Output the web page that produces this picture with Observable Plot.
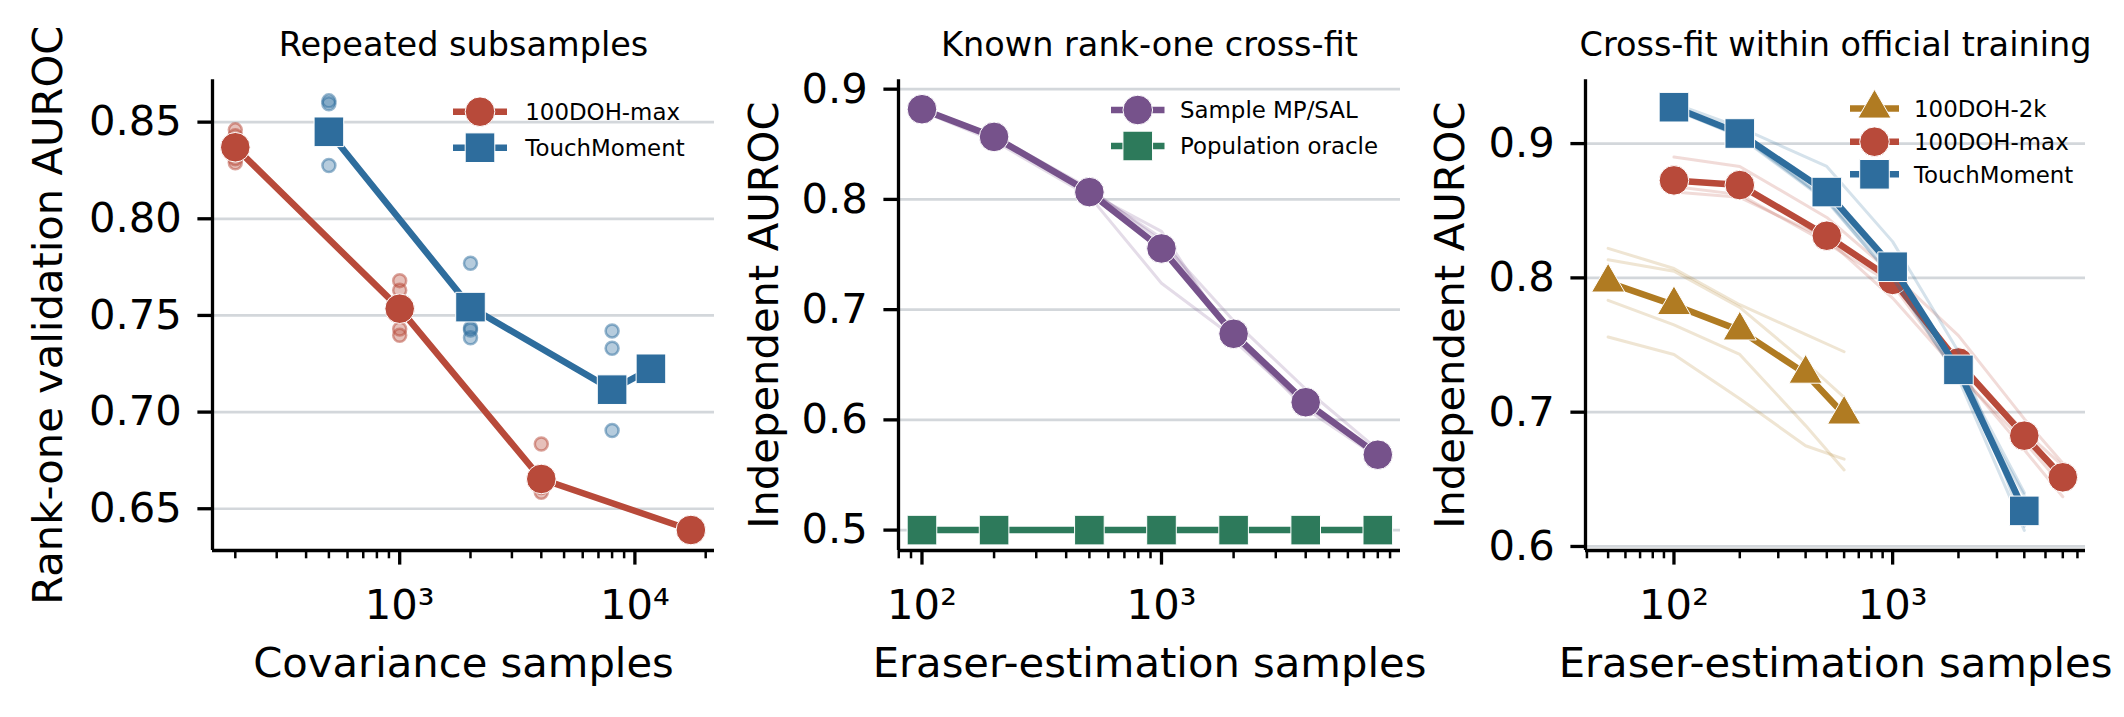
<!DOCTYPE html>
<html><head><meta charset="utf-8">
<script src="https://cdn.jsdelivr.net/npm/d3@7"></script>
<script src="https://cdn.jsdelivr.net/npm/@observablehq/plot@0.6"></script>
<style>
body{margin:0;background:#fff;}
#wrap{position:relative;width:2124px;height:717px;background:#fff;overflow:hidden;}
#wrap svg{position:absolute;top:0;}
</style></head><body><div id="wrap"></div>
<script>
// ---------- Panel 1: Repeated subsamples ----------
const p1MaxX = [200, 1000, 4000, 17300];
const p1MaxY = [0.837, 0.7535, 0.6654, 0.639];
const p1TouchX = [500, 2000, 8000, 11700];
const p1TouchY = [0.845, 0.7543, 0.7116, 0.7224];
const p1MaxRepX = [200, 200, 200, 200, 200, 1000, 1000, 1000, 1000, 1000, 4000, 4000, 4000, 4000];
const p1MaxRepY = [0.846, 0.843, 0.836, 0.831, 0.829, 0.768, 0.763, 0.754, 0.743, 0.7397, 0.6835, 0.666, 0.661, 0.6585];
const p1TouchRepX = [500, 500, 500, 500, 2000, 2000, 2000, 2000, 8000, 8000, 8000];
const p1TouchRepY = [0.861, 0.8595, 0.842, 0.8276, 0.777, 0.7435, 0.7425, 0.7385, 0.742, 0.733, 0.6905];
const p1YTicks = [0.65, 0.70, 0.75, 0.80, 0.85];
const p1XMajor = [1000, 10000];
const p1XMinor = [200, 300, 400, 500, 600, 700, 800, 900, 2000, 3000, 4000, 5000, 6000, 7000, 8000, 9000, 20000];

// ---------- Panel 2: Known rank-one cross-fit ----------
const p2X = [100, 200, 500, 1000, 2000, 4000, 8000];
const p2SampleY = [0.8818, 0.8567, 0.8066, 0.7555, 0.6781, 0.616, 0.5684];
const p2OracleY = [0.5, 0.5, 0.5, 0.5, 0.5, 0.5, 0.5];
const p2Seed1 = [0.880, 0.853, 0.803, 0.724, 0.675, 0.614, 0.567];
const p2Seed2 = [0.883, 0.858, 0.810, 0.762, 0.690, 0.628, 0.573];
const p2Seed3 = [0.882, 0.857, 0.808, 0.765, 0.676, 0.610, 0.566];
const p2Seed4 = [0.881, 0.858, 0.806, 0.771, 0.672, 0.613, 0.568];
const p2YTicks = [0.5, 0.6, 0.7, 0.8, 0.9];
const p2XMajor = [100, 1000];
const p2XMinor = [80, 90, 200, 300, 400, 500, 600, 700, 800, 900, 2000, 3000, 4000, 5000, 6000, 7000, 8000, 9000];

// ---------- Panel 3: Cross-fit within official training ----------
const p3SmallX = [50, 100, 200, 400, 600];
const p3SmallY = [0.7966, 0.7798, 0.7609, 0.7287, 0.6983];
const p3SmallSeed1 = [0.822, 0.807, 0.780, 0.758, 0.745];
const p3SmallSeed2 = [0.8135, 0.805, 0.778, 0.737, 0.711];
const p3SmallSeed3 = [0.7833, 0.765, 0.743, 0.690, 0.657];
const p3SmallSeed4 = [0.756, 0.743, 0.710, 0.675, 0.665];
const p3MaxX = [100, 200, 500, 1000, 2000, 4000, 6000];
const p3MaxY = [0.8726, 0.8691, 0.8314, 0.7985, 0.737, 0.6825, 0.6515];
const p3MaxSeed1 = [0.890, 0.883, 0.845, 0.803, 0.757, 0.695, 0.662];
const p3MaxSeed2 = [0.868, 0.862, 0.826, 0.795, 0.728, 0.678, 0.645];
const p3MaxSeed3 = [0.864, 0.860, 0.829, 0.785, 0.730, 0.672, 0.637];
const p3MaxSeed4 = [0.870, 0.872, 0.828, 0.800, 0.735, 0.686, 0.660];
const p3TouchX = [100, 200, 500, 1000, 2000, 4000];
const p3TouchY = [0.9271, 0.9075, 0.8639, 0.8083, 0.7315, 0.6265];
const p3TouchSeed1 = [0.930, 0.912, 0.883, 0.827, 0.745, 0.615];
const p3TouchSeed2 = [0.926, 0.905, 0.857, 0.800, 0.725, 0.612];
const p3TouchSeed3 = [0.928, 0.907, 0.858, 0.805, 0.733, 0.640];
const p3TouchSeed4 = [0.925, 0.906, 0.858, 0.800, 0.726, 0.638];
const p3YTicks = [0.6, 0.7, 0.8, 0.9];
const p3XMajor = [100, 1000];
const p3XMinor = [40, 50, 60, 70, 80, 90, 200, 300, 400, 500, 600, 700, 800, 900, 2000, 3000, 4000, 5000, 6000, 7000];

// ---------- styling ----------
const RED = "#b84a3a", BLUE = "#2e6d9d", PURPLE = "#76528b", GREEN = "#2d7a5b", GOLD = "#b07b22";
const GRID = "#d3d7db";
const FONT = "DejaVu Sans";
const H = 717, MT = 79.3, MB = 167;
const FS = 41.7;
const RC = 14.8, RS = 16.7, RT = 12.3;

const rows = (xs, ys) => xs.map((x, i) => ({x, y: ys[i]}));
const seedRows = (xs, seeds) => seeds.flatMap((ys, s) => xs.map((x, i) => ({x, y: ys[i], s})));
const SUP = {"0": "⁰", "1": "¹", "2": "²", "3": "³", "4": "⁴", "5": "⁵"};
const supFmt = d => "10" + String(Math.round(Math.log10(d))).split("").map(c => SUP[c]).join("");

function panel(o) {
  return Plot.plot({
    width: o.width, height: H,
    marginLeft: o.ml, marginRight: o.mr, marginTop: MT, marginBottom: MB,
    x: {type: "log", domain: o.xDomain},
    y: {domain: o.yDomain},
    style: {fontFamily: FONT, background: "white", overflow: "visible"},
    marks: [
      Plot.gridY(o.yTicks, {stroke: GRID, strokeOpacity: 1, strokeWidth: 2.7}),
      ...o.marks,
      Plot.ruleX([o.xDomain[0]], {stroke: "black", strokeWidth: 3.3}),
      Plot.ruleY([o.yDomain[0]], {stroke: "black", strokeWidth: 3.3}),
      Plot.axisY(o.yTicks, {tickSize: 14.6, tickPadding: 16, fontSize: FS, tickFormat: o.yFmt, strokeWidth: 3.3, label: null}),
      Plot.axisX(o.xMajor, {tickSize: 14.6, tickPadding: 24, fontSize: FS, tickFormat: supFmt, strokeWidth: 3.3, label: null}),
      Plot.axisX(o.xMinor, {tickSize: 8.3, tickFormat: () => "", strokeWidth: 2.5, label: null}),
      Plot.text([o.title], {frameAnchor: "top", dy: -35, fontSize: 33.5, lineAnchor: "middle", text: d => d}),
      Plot.text([o.xlabel], {frameAnchor: "bottom", dy: 113.4, fontSize: FS, lineAnchor: "middle", text: d => d}),
      Plot.text([o.ylabel], {frameAnchor: "left", dx: o.ylabelDx, rotate: -90, fontSize: FS, lineAnchor: "middle", textAnchor: "middle", text: d => d})
    ]
  });
}

const mainLine = (data, color) => Plot.line(data, {x: "x", y: "y", stroke: color, strokeWidth: 6.5});
const mainDots = (data, color, symbol, r) => Plot.dot(data, {x: "x", y: "y", symbol, r, fill: color, stroke: "white", strokeWidth: 1});
const seedLines = (data, color) => Plot.line(data, {x: "x", y: "y", z: "s", stroke: color, strokeOpacity: 0.2, strokeWidth: 3});
const repDots = (data, color) => Plot.dot(data, {x: "x", y: "y", r: 6.5, fill: color, fillOpacity: 0.35, stroke: color, strokeOpacity: 0.5, strokeWidth: 2.5});

const SYM = {circle: [d3.symbolCircle, Math.PI * RC * RC], square: [d3.symbolSquare, Math.PI * RS * RS], triangle: [d3.symbolTriangle, Math.PI * RT * RT]};
// legend drawn as an overlay svg (left = panel offset in page px)
function legend(left, items, x0, x1, tx) {
  const svg = d3.create("svg").attr("width", 400).attr("height", 220)
    .attr("viewBox", `0 0 400 220`).style("left", (left + x0 - 10) + "px").style("position", "absolute").style("top", "0px");
  const off = x0 - 10;
  for (const it of items) {
    svg.append("path").attr("d", `M${x0 - off},${it.y}H${x1 - off}`)
      .attr("fill", "none").attr("stroke", it.color).attr("stroke-width", 6.5);
    const [s, size] = SYM[it.sym];
    svg.append("path").attr("d", d3.symbol(s, size)()).attr("transform", `translate(${(x0 + x1) / 2 - off},${it.y})`)
      .attr("fill", it.color).attr("stroke", "white").attr("stroke-width", 1);
    svg.append("text").attr("x", tx - off).attr("y", it.y + 8.3).attr("font-size", 22.9)
      .attr("text-anchor", "start").attr("font-family", FONT).attr("fill", "black").text(it.label);
  }
  wrap.appendChild(svg.node());
}

const wrap = document.getElementById("wrap");

// Panel 1
const s1 = panel({
  width: 740, ml: 212, mr: 26,
  xDomain: [160, 21800], yDomain: [0.6284, 0.8719],
  yTicks: p1YTicks, yFmt: d3.format(".2f"), xMajor: p1XMajor, xMinor: p1XMinor,
  title: "Repeated subsamples", xlabel: "Covariance samples", ylabel: "Rank-one validation AUROC", ylabelDx: -163.6,
  marks: [
    repDots(rows(p1MaxRepX, p1MaxRepY), RED),
    mainLine(rows(p1MaxX, p1MaxY), RED),
    mainDots(rows(p1MaxX, p1MaxY), RED, "circle", RC),
    repDots(rows(p1TouchRepX, p1TouchRepY), BLUE),
    mainLine(rows(p1TouchX, p1TouchY), BLUE),
    mainDots(rows(p1TouchX, p1TouchY), BLUE, "square", RS)
  ]
});
s1.style.left = "0px";
wrap.appendChild(s1);

// Panel 2
const s2 = panel({
  width: 700, ml: 158, mr: 40,
  xDomain: [79.8, 9950], yDomain: [0.4815, 0.9085],
  yTicks: p2YTicks, yFmt: d3.format(".1f"), xMajor: p2XMajor, xMinor: p2XMinor,
  title: "Known rank-one cross-fit", xlabel: "Eraser-estimation samples", ylabel: "Independent AUROC", ylabelDx: -134.3,
  marks: [
    seedLines(seedRows(p2X, [p2Seed1, p2Seed2, p2Seed3, p2Seed4]), PURPLE),
    mainLine(rows(p2X, p2SampleY), PURPLE),
    mainDots(rows(p2X, p2SampleY), PURPLE, "circle", RC),
    mainLine(rows(p2X, p2OracleY), GREEN),
    mainDots(rows(p2X, p2OracleY), GREEN, "square", RS)
  ]
});
s2.style.left = "740px";
wrap.appendChild(s2);

// Panel 3
const s3 = panel({
  width: 684, ml: 145, mr: 39,
  xDomain: [39.4, 7620], yDomain: [0.597, 0.9475],
  yTicks: p3YTicks, yFmt: d3.format(".1f"), xMajor: p3XMajor, xMinor: p3XMinor,
  title: "Cross-fit within official training", xlabel: "Eraser-estimation samples", ylabel: "Independent AUROC", ylabelDx: -135.3,
  marks: [
    seedLines(seedRows(p3SmallX, [p3SmallSeed1, p3SmallSeed2, p3SmallSeed3, p3SmallSeed4]), GOLD),
    mainLine(rows(p3SmallX, p3SmallY), GOLD),
    mainDots(rows(p3SmallX, p3SmallY), GOLD, "triangle", RT),
    seedLines(seedRows(p3MaxX, [p3MaxSeed1, p3MaxSeed2, p3MaxSeed3, p3MaxSeed4]), RED),
    mainLine(rows(p3MaxX, p3MaxY), RED),
    mainDots(rows(p3MaxX, p3MaxY), RED, "circle", RC),
    seedLines(seedRows(p3TouchX, [p3TouchSeed1, p3TouchSeed2, p3TouchSeed3, p3TouchSeed4]), BLUE),
    mainLine(rows(p3TouchX, p3TouchY), BLUE),
    mainDots(rows(p3TouchX, p3TouchY), BLUE, "square", RS)
  ]
});
s3.style.left = "1440px";
wrap.appendChild(s3);

legend(0, [{label: "100DOH-max", color: RED, sym: "circle", y: 111.7}, {label: "TouchMoment", color: BLUE, sym: "square", y: 147.7}], 452.7, 506.7, 525);
legend(740, [{label: "Sample MP/SAL", color: PURPLE, sym: "circle", y: 110}, {label: "Population oracle", color: GREEN, sym: "square", y: 146}], 371, 424.5, 440);
legend(1440, [{label: "100DOH-2k", color: GOLD, sym: "triangle", y: 108.5}, {label: "100DOH-max", color: RED, sym: "circle", y: 141.7}, {label: "TouchMoment", color: BLUE, sym: "square", y: 174.3}], 410, 459, 474);
</script>
</body></html>
